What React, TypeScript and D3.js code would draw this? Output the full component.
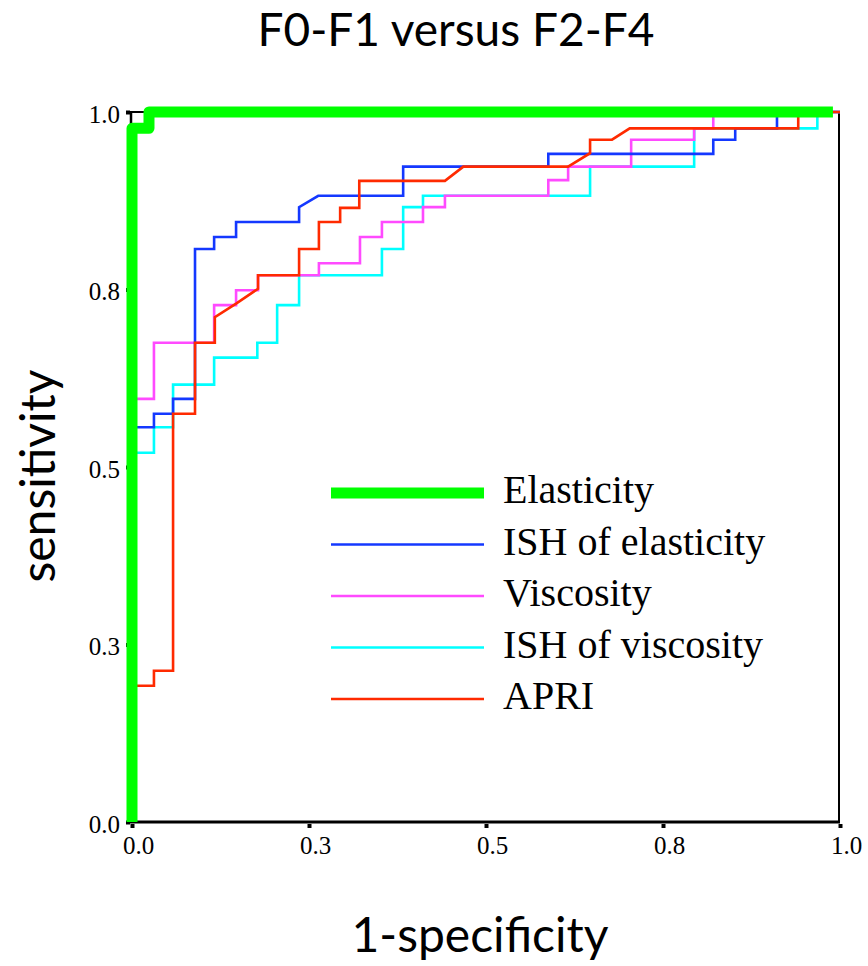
import React from "react";
import * as d3 from "d3";

// tick values and their printed labels (one decimal, like the original)
const tickValues = [0, 0.25, 0.5, 0.75, 1];
const tickLabels = ["0.0", "0.3", "0.5", "0.8", "1.0"];

const seriesNames = ["Elasticity", "ISH of elasticity", "Viscosity", "ISH of viscosity", "APRI"];
const seriesColors = ["#00ff00", "#1438ff", "#ff4aff", "#00ffff", "#ff2a00"];

// ROC corner points [1-specificity, sensitivity]
const elasticity = [[0, 0], [0, 0.977], [0.024, 0.977], [0.024, 1], [0.99, 1]];

const ishElasticity = [
    [0, 0], [0, 0.556], [0.031, 0.556], [0.031, 0.575], [0.058, 0.575], [0.058, 0.596],
    [0.089, 0.596], [0.089, 0.807], [0.116, 0.807], [0.116, 0.824], [0.147, 0.824],
    [0.147, 0.845], [0.236, 0.845], [0.236, 0.866], [0.263, 0.882], [0.383, 0.882],
    [0.383, 0.923], [0.588, 0.923], [0.588, 0.941], [0.821, 0.941], [0.821, 0.961],
    [0.852, 0.961], [0.852, 0.977], [0.911, 0.977], [0.911, 1], [1, 1],
];

const viscosity = [
    [0, 0], [0, 0.596], [0.031, 0.596], [0.031, 0.675], [0.116, 0.675], [0.116, 0.728],
    [0.147, 0.728], [0.147, 0.749], [0.178, 0.749], [0.178, 0.77], [0.264, 0.77],
    [0.264, 0.787], [0.322, 0.787], [0.322, 0.824], [0.353, 0.824], [0.353, 0.845],
    [0.411, 0.845], [0.411, 0.866], [0.442, 0.866], [0.442, 0.882], [0.588, 0.882],
    [0.588, 0.904], [0.616, 0.904], [0.616, 0.923], [0.705, 0.923], [0.705, 0.961],
    [0.794, 0.961], [0.794, 0.977], [0.821, 0.977], [0.821, 1], [1, 1],
];

const ishViscosity = [
    [0, 0], [0, 0.52], [0.031, 0.52], [0.031, 0.556], [0.058, 0.556], [0.058, 0.616],
    [0.116, 0.616], [0.116, 0.654], [0.177, 0.654], [0.177, 0.675], [0.205, 0.675],
    [0.205, 0.728], [0.236, 0.728], [0.236, 0.77], [0.353, 0.77], [0.353, 0.807],
    [0.383, 0.807], [0.383, 0.866], [0.411, 0.866], [0.411, 0.882], [0.647, 0.882],
    [0.647, 0.923], [0.794, 0.923], [0.794, 0.977], [0.968, 0.977], [0.968, 1], [1, 1],
];

const apri = [
    [0, 0], [0, 0.192], [0.031, 0.192], [0.031, 0.213], [0.058, 0.213], [0.058, 0.575],
    [0.089, 0.575], [0.089, 0.675], [0.117, 0.675], [0.117, 0.711], [0.147, 0.73],
    [0.178, 0.751], [0.178, 0.77], [0.236, 0.77], [0.236, 0.807], [0.264, 0.807],
    [0.264, 0.845], [0.294, 0.845], [0.294, 0.865], [0.321, 0.865], [0.321, 0.903],
    [0.442, 0.903], [0.468, 0.923], [0.616, 0.923], [0.647, 0.942], [0.647, 0.961],
    [0.678, 0.961], [0.703, 0.977], [0.941, 0.977], [0.941, 1], [1, 1],
];

const seriesData = [elasticity, ishElasticity, viscosity, ishViscosity, apri];

export default function App() {
    const ref = React.useRef<SVGSVGElement>(null);

    React.useEffect(() => {
        const svg = d3.select(ref.current);
        svg.selectAll("*").remove();

        const left = 132, right = 840, top = 112, bottom = 822;
        const x = d3.scaleLinear().domain([0, 1]).range([left, right]);
        const y = d3.scaleLinear().domain([0, 1]).range([bottom, top]);

        // frame
        svg.append("line").attr("x1", left - 1).attr("x2", left - 1).attr("y1", top).attr("y2", bottom)
            .attr("stroke", "#000").attr("stroke-width", 2.5);
        svg.append("line").attr("x1", left - 2).attr("x2", right).attr("y1", bottom).attr("y2", bottom)
            .attr("stroke", "#000").attr("stroke-width", 3);
        svg.append("line").attr("x1", right - 1).attr("x2", right - 1).attr("y1", top).attr("y2", bottom)
            .attr("stroke", "#000").attr("stroke-width", 2);
        svg.append("line").attr("x1", left - 2).attr("x2", right).attr("y1", top).attr("y2", top)
            .attr("stroke", "#000").attr("stroke-width", 2);

        // axes
        const xAxis = d3.axisBottom(x)
            .tickValues(tickValues)
            .tickFormat((d, i) => tickLabels[i])
            .tickSize(4)
            .tickPadding(8);
        const gx = svg.append("g").attr("transform", `translate(0,${bottom + 2})`).call(xAxis);
        gx.select(".domain").remove();
        gx.selectAll(".tick line").attr("stroke", "#000").attr("stroke-width", 4);
        gx.selectAll(".tick text")
            .attr("font-family", "'Liberation Serif', 'DejaVu Serif', serif")
            .attr("font-size", 25)
            .attr("fill", "#000")
            .attr("dx", 6);

        const yAxis = d3.axisLeft(y)
            .tickValues(tickValues)
            .tickFormat((d, i) => tickLabels[i])
            .tickSize(4)
            .tickPadding(6);
        const gy = svg.append("g").attr("transform", `translate(${left - 2},0)`).call(yAxis);
        gy.select(".domain").remove();
        gy.selectAll(".tick line").attr("stroke", "#000").attr("stroke-width", 4);
        gy.selectAll(".tick text")
            .attr("font-family", "'Liberation Serif', 'DejaVu Serif', serif")
            .attr("font-size", 25)
            .attr("fill", "#000")
            .attr("dy", "0.4em");

        // curves, drawn so that red sits over blue, blue over magenta, magenta over cyan
        const line = d3.line<number[]>().x((d) => x(d[0])).y((d) => y(d[1]));
        const order = [3, 2, 1, 4, 0];
        order.forEach((i) => {
            svg.append("path")
                .datum(seriesData[i])
                .attr("fill", "none")
                .attr("stroke", seriesColors[i])
                .attr("stroke-width", i === 0 ? 11 : 2.6)
                .attr("stroke-linejoin", i === 0 ? "round" : "miter")
                .attr("d", line);
        });

        // legend
        const legend = svg.append("g");
        seriesNames.forEach((name, i) => {
            const ly = 493 + i * 51.5;
            legend.append("line")
                .attr("x1", 331).attr("x2", 484)
                .attr("y1", ly).attr("y2", ly)
                .attr("stroke", seriesColors[i])
                .attr("stroke-width", i === 0 ? 11 : 2.6);
            legend.append("text")
                .attr("x", 503).attr("y", ly + 10)
                .attr("font-family", "'Liberation Serif', 'DejaVu Serif', serif")
                .attr("font-size", 40)
                .attr("fill", "#000")
                .text(name);
        });

        // titles
        svg.append("text")
            .attr("x", 456).attr("y", 46)
            .attr("text-anchor", "middle")
            .attr("font-family", "Lato, 'Open Sans', sans-serif")
            .attr("font-size", 46)
            .attr("fill", "#000")
            .text("F0-F1  versus F2-F4");

        svg.append("text")
            .attr("transform", `translate(55,476) rotate(-90)`)
            .attr("text-anchor", "middle")
            .attr("font-family", "Lato, 'Open Sans', sans-serif")
            .attr("font-size", 48)
            .attr("fill", "#000")
            .text("sensitivity");

        svg.append("text")
            .attr("x", 480).attr("y", 952)
            .attr("text-anchor", "middle")
            .attr("font-family", "Lato, 'Open Sans', sans-serif")
            .attr("font-size", 48)
            .attr("fill", "#000")
            .text("1-specificity");
    }, []);

    return (
        <svg
            ref={ref}
            width={868}
            height={966}
            style={{ position: "absolute", left: 0, top: 0, background: "#fff" }}
        />
    );
}
